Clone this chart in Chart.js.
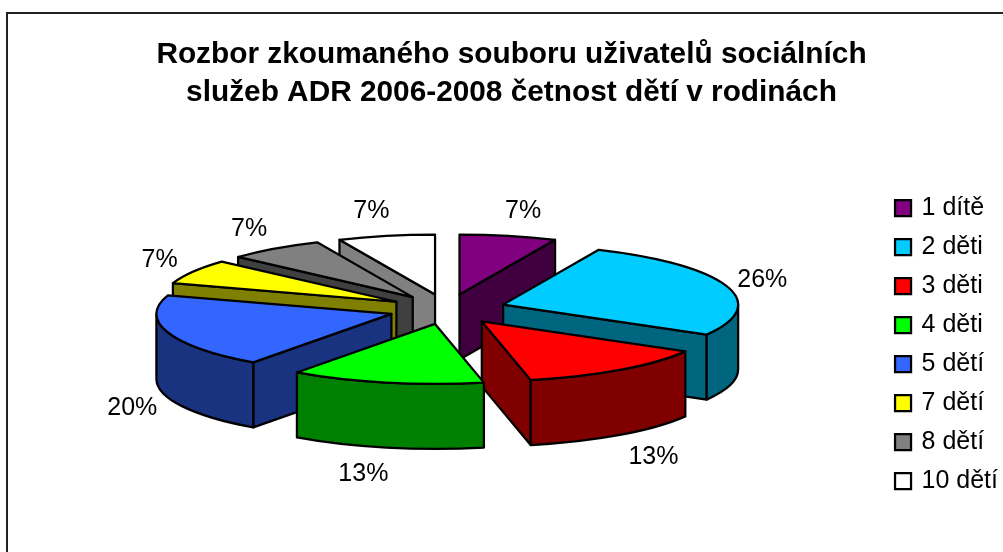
<!DOCTYPE html>
<html><head><meta charset="utf-8">
<style>html,body{margin:0;padding:0;background:#fff}#w{position:relative;width:1003px;height:552px}</style>
<script src="https://cdn.jsdelivr.net/npm/chart.js@4"></script>
</head><body><div id="w"><canvas id="c" width="1003" height="552"></canvas></div>
<script>
const categories = ['1 dítě','2 děti','3 děti','4 děti','5 dětí','7 dětí','8 dětí','10 dětí'];
const counts = [1,4,2,2,3,1,1,1];
const percentLabels = ['7%','26%','13%','13%','20%','7%','7%','7%'];
const colors = ['#800080','#00CCFF','#FF0000','#00FF00','#3366FF','#FFFF00','#808080','#FFFFFF'];
const sideColors = ['#400040','#006680','#800000','#008000','#1A3380','#808000','#404040','#808080'];
const titleLines = ['Rozbor zkoumaného souboru uživatelů sociálních','služeb ADR 2006-2008 četnost dětí v rodinách'];

const RX = 235, RY = 60, DEPTH = 65, EXPLODE = 0.25, SHIFT_X = -1.75;

const pie3d = {
  id: 'pie3d',
  beforeDraw(chart) {
    const c = chart.ctx;
    c.save();
    c.strokeStyle = '#222'; c.lineWidth = 2;
    c.beginPath(); c.moveTo(7, 552); c.lineTo(7, 13); c.lineTo(1003, 13); c.stroke();
    c.restore();
  },
  beforeDatasetDraw(chart, args) {
    const c = chart.ctx, arcs = args.meta.data;
    const items = arcs.map((a, i) => {
      const mid = (a.startAngle + a.endAngle) / 2;
      return { a, i, mid,
        ax: a.x + SHIFT_X + EXPLODE * RX * Math.cos(mid),
        ay: a.y + EXPLODE * RY * Math.sin(mid) };
    }).sort((p, q) => Math.sin(p.mid) - Math.sin(q.mid));
    c.save();
    c.lineWidth = 2.25; c.lineJoin = 'round'; c.strokeStyle = '#000';
    const wall = (s, ang, col) => {
      const px = s.ax + RX * Math.cos(ang), py = s.ay + RY * Math.sin(ang);
      c.beginPath(); c.moveTo(s.ax, s.ay); c.lineTo(px, py);
      c.lineTo(px, py + DEPTH); c.lineTo(s.ax, s.ay + DEPTH); c.closePath();
      c.fillStyle = col; c.fill(); c.stroke();
    };
    for (const s of items) {
      const st = s.a.startAngle, en = s.a.endAngle, col = sideColors[s.i];
      if (Math.cos(st) < -1e-6) wall(s, st, col);
      if (Math.cos(en) > 1e-6) wall(s, en, col);
      const lo = Math.max(st, 0), hi = Math.min(en, Math.PI);
      if (hi > lo) {
        c.beginPath();
        c.ellipse(s.ax, s.ay, RX, RY, 0, lo, hi);
        c.ellipse(s.ax, s.ay + DEPTH, RX, RY, 0, hi, lo, true);
        c.closePath();
        c.fillStyle = col; c.fill(); c.stroke();
      }
      c.beginPath();
      c.moveTo(s.ax, s.ay);
      c.ellipse(s.ax, s.ay, RX, RY, 0, st, en);
      c.closePath();
      c.fillStyle = colors[s.i]; c.fill(); c.stroke();
    }
    c.fillStyle = '#000';
    c.font = '25px "Liberation Sans"';
    c.textAlign = 'center'; c.textBaseline = 'middle';
    for (const s of items) {
      const sn = Math.cos(s.mid), cs = Math.sin(s.mid);
      const lx = s.ax + RX * sn + Math.sign(sn) * (9 + 28 * Math.abs(sn) + (cs > 0.5 ? 8 : 0));
      const ly = s.ay + RY * cs + (cs > 0 ? DEPTH + 3 + 24 * cs : 2 + 27 * cs);
      c.fillText(percentLabels[s.i], lx, ly);
    }
    c.restore();
    return false;
  }
};

new Chart(document.getElementById('c'), {
  type: 'pie',
  data: { labels: categories, datasets: [{ data: counts, backgroundColor: colors, borderColor: '#000', borderWidth: 2.25 }] },
  plugins: [pie3d],
  options: {
    responsive: false, animation: false,
    layout: { padding: { left: 15, right: -5, top: 0, bottom: 44.5 } },
    plugins: {
      tooltip: { enabled: false },
      title: { display: true, text: titleLines, color: '#000',
        font: { family: '"Liberation Sans"', size: 29.8, weight: 'bold', lineHeight: 1.25 },
        padding: { top: 36.5, bottom: 0 } },
      legend: { position: 'right', align: 'end',
        labels: { color: '#000', font: { family: '"Liberation Sans"', size: 25 },
          usePointStyle: true, pointStyle: 'rect', boxWidth: 12, boxHeight: 16, padding: 14 } }
    }
  }
});
</script></body></html>
